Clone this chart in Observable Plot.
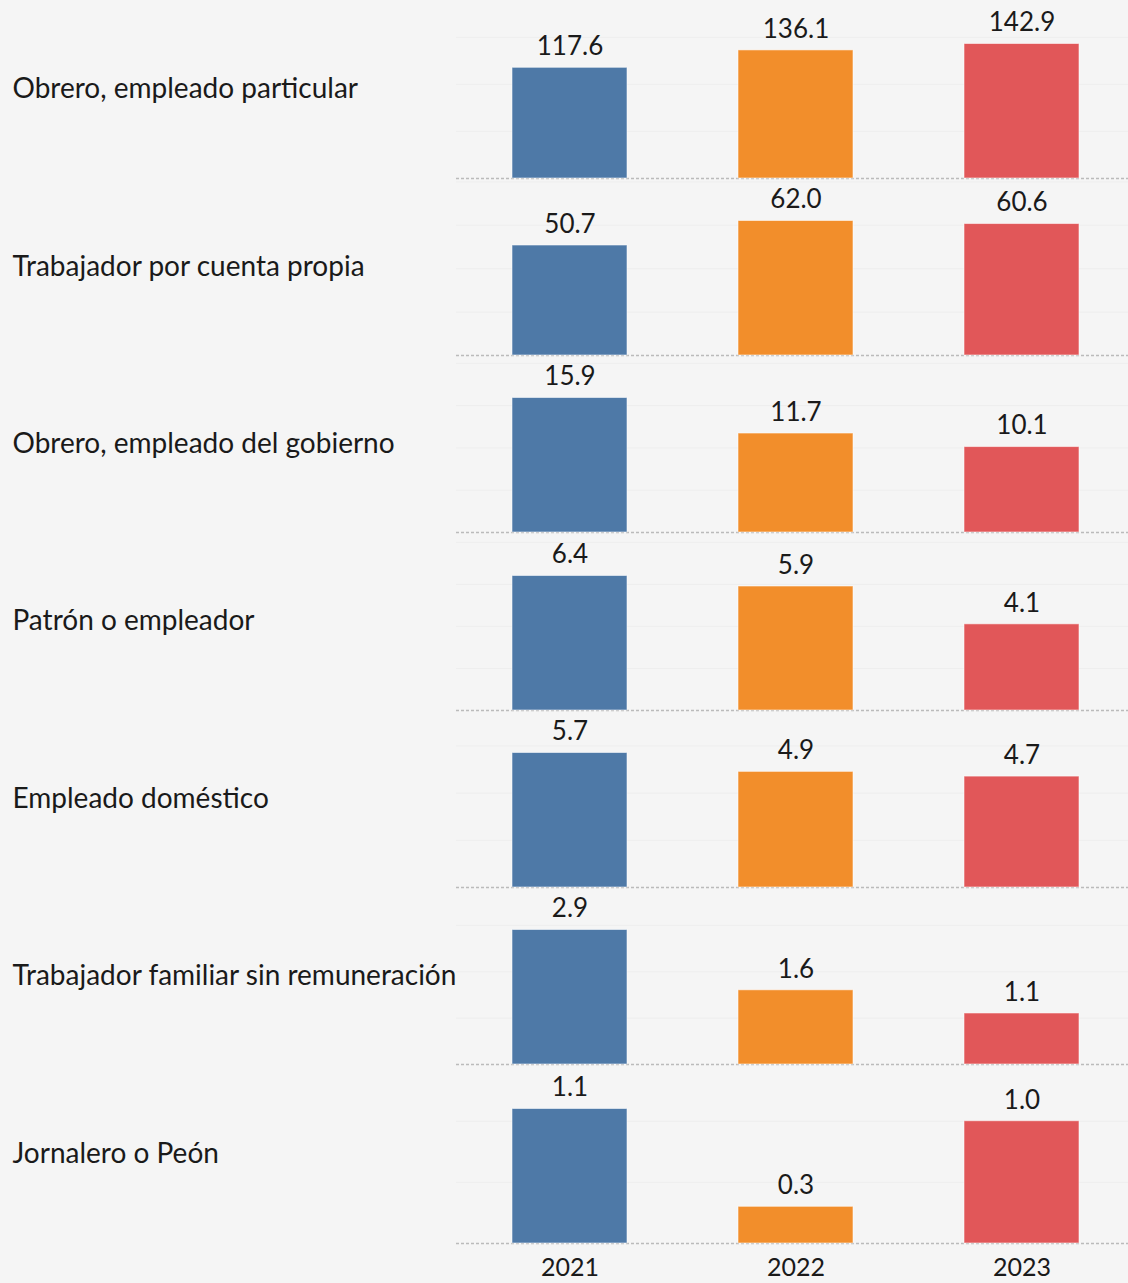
<!DOCTYPE html>
<html><head><meta charset="utf-8">
<script src="https://cdn.jsdelivr.net/npm/d3@7"></script>
<script src="https://cdn.jsdelivr.net/npm/@observablehq/plot@0.6"></script>
<style>
html,body{margin:0;padding:0;background:#f5f5f5;}
#chart{width:1128px;}
#chart svg{display:block;}
</style></head><body><div id="chart"></div>
<script>
const categories = [
  "Obrero, empleado particular",
  "Trabajador por cuenta propia",
  "Obrero, empleado del gobierno",
  "Patrón o empleador",
  "Empleado doméstico",
  "Trabajador familiar sin remuneración",
  "Jornalero o Peón"
];
const years = ["2021", "2022", "2023"];
const values2021 = [117.6, 50.7, 15.9, 6.4, 5.7, 2.9, 1.1];
const values2022 = [136.1, 62.0, 11.7, 5.9, 4.9, 1.6, 0.3];
const values2023 = [142.9, 60.6, 10.1, 4.1, 4.7, 1.1, 1.0];
const colors = ["#4e79a7", "#f28e2b", "#e15759"];

const series = [values2021, values2022, values2023];
const rowHeights = [178, 177, 177, 178, 177, 177, 179];
const barMax = 134.5;
const container = document.getElementById("chart");

categories.forEach((cat, i) => {
  const rows = years.map((yr, j) => ({category: cat, year: yr, value: series[j][i]}));
  const max = d3.max(rows, d => d.value);
  const last = i === categories.length - 1;
  const mb = last ? 40 : 0;
  const H = rowHeights[i];
  const plot = Plot.plot({
    width: 1128,
    height: H + mb,
    marginLeft: 456, marginRight: 0, marginTop: 0, marginBottom: mb,
    style: {background: "transparent", fontFamily: "Lato, sans-serif", color: "#1a1a1a", overflow: "visible"},
    x: {domain: years, paddingInner: 0.49, paddingOuter: 0.23, align: 0.53, axis: null, label: null},
    y: {domain: [0, max], range: [H, H - barMax], axis: null},
    color: {domain: years, range: colors},
    marks: [
      Plot.ruleY(d3.ticks(0, max * H / barMax, 3).filter(t => t > 0), {stroke: "#eeeeee"}),
      Plot.ruleY([0], {stroke: "#bbbbbb", strokeDasharray: "3,2", strokeWidth: 1.5}),
      Plot.barY(rows, {x: "year", y: "value", fill: "year", stroke: "white", strokeOpacity: 0.55}),
      Plot.text(rows, {x: "year", y: "value", text: d => d.value.toFixed(1), dy: -21, fontSize: 26, fill: "#1a1a1a"}),
      Plot.text([cat], {frameAnchor: "left", dx: -444, text: d => d, textAnchor: "start", fontSize: 28, fill: "#1a1a1a"}),
      last ? Plot.axisX({tickSize: 0, tickPadding: 15, fontSize: 25, label: null}) : null
    ]
  });
  container.appendChild(plot);
});
</script></body></html>
